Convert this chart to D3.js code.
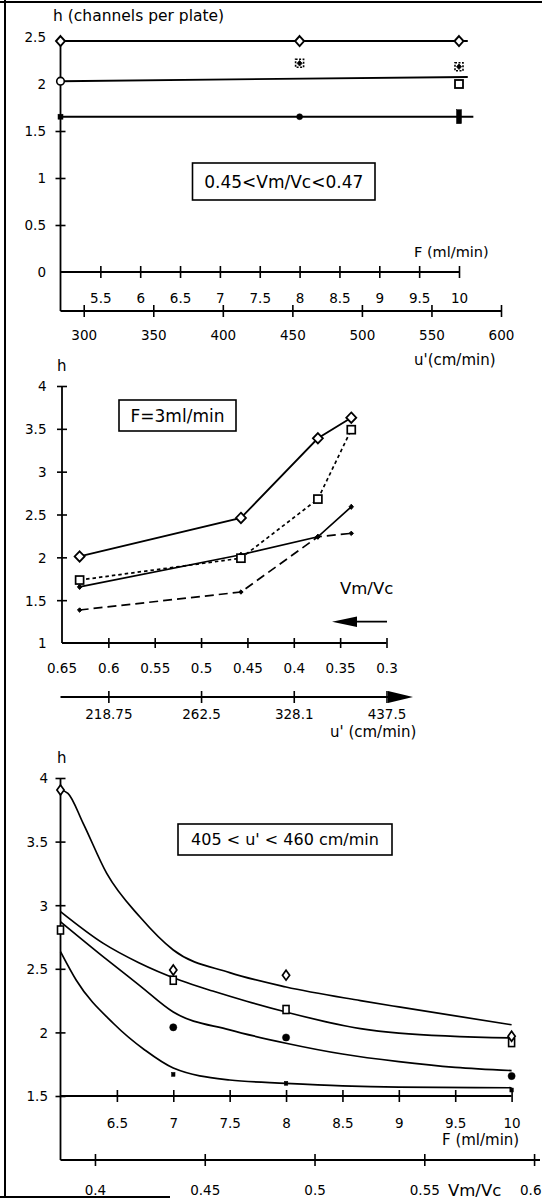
<!DOCTYPE html>
<html><head><meta charset="utf-8">
<script src="https://cdn.jsdelivr.net/npm/d3@7"></script>
<style>
body{margin:0;background:#fff}
svg{display:block}
text{font-family:"DejaVu Sans",sans-serif;fill:#000}
</style>
</head><body>
<svg id="c" width="542" height="1200"></svg>
<script>
// ---------- DATA ----------
// Panel 1 : 0.45 < Vm/Vc < 0.47, h versus F (and u')
const p1FlowTicks = [5.5, 6, 6.5, 7, 7.5, 8, 8.5, 9, 9.5, 10];
const p1UTicks = [300, 350, 400, 450, 500, 550, 600];
const p1HTicks = [0, 0.5, 1, 1.5, 2, 2.5];
const p1DiamondF = [5, 8, 10];
const p1DiamondH = [2.457, 2.457, 2.457];
const p1OpenF = [5];
const p1OpenH = [2.03];
const p1DottedF = [8, 10];
const p1DottedH = [2.22, 2.184];
const p1SquareF = [10];
const p1SquareH = [2.0];
const p1FilledF = [5, 8, 10];
const p1FilledH = [1.652, 1.652, 1.652];
const p1LineTopF = [5, 10.11];
const p1LineTopH = [2.457, 2.457];
const p1LineMidF = [5, 10.11];
const p1LineMidH = [2.03, 2.075];
const p1LineLowF = [5, 10.18];
const p1LineLowH = [1.652, 1.652];

// Panel 2 : F = 3 ml/min, h versus Vm/Vc (and u')
const p2RatioTicks = [0.65, 0.6, 0.55, 0.5, 0.45, 0.4, 0.35, 0.3];
const p2UTicks = [218.75, 262.5, 328.1, 437.5];
const p2HTicks = [1, 1.5, 2, 2.5, 3, 3.5, 4];
const p2Ratio = [0.631, 0.457, 0.374, 0.338];
const p2OpenDiamond = [2.01, 2.46, 3.39, 3.63];
const p2OpenSquare = [1.735, 1.99, 2.68, 3.49];
const p2FilledDiamond = [1.655, 2.03, 2.24, 2.59];
const p2FilledSquare = [1.385, 1.595, 2.24, 2.28];

// Panel 3 : 405 < u' < 460 cm/min, h versus F (and Vm/Vc)
const p3FlowTicks = [6.5, 7, 7.5, 8, 8.5, 9, 9.5, 10];
const p3RatioTicks = [0.4, 0.45, 0.5, 0.55, 0.6];
const p3HTicks = [1.5, 2, 2.5, 3, 3.5, 4];
const p3OpenF = [6, 7, 8, 10];
const p3OpenDiamond = [3.906, 2.49, 2.45, 1.97];
const p3OpenSquare = [2.805, 2.41, 2.18, 1.92];
const p3FilledF = [7, 8, 10];
const p3FilledCircle = [2.04, 1.96, 1.657];
const p3FilledSquare = [1.67, 1.60, 1.547];
const p3Curve1F = [6, 6.066, 6.2, 6.41, 6.705, 7, 7.5, 8, 8.66, 9, 10];
const p3Curve1H = [3.906, 3.88, 3.646, 3.25, 2.907, 2.648, 2.47, 2.357, 2.25, 2.20, 2.06];
const p3Curve2F = [6, 6.38, 6.69, 7.06, 7.35, 7.65, 8, 8.66, 9, 10];
const p3Curve2H = [2.95, 2.70, 2.55, 2.41, 2.325, 2.245, 2.16, 2.03, 1.995, 1.956];
const p3Curve3F = [6, 6.4, 6.7, 7, 7.5, 8, 8.5, 9, 9.5, 10];
const p3Curve3H = [2.87, 2.58, 2.37, 2.16, 2.02, 1.915, 1.83, 1.77, 1.725, 1.70];
const p3Curve4F = [6, 6.14, 6.47, 6.75, 7, 7.5, 8, 8.5, 9, 10];
const p3Curve4H = [2.635, 2.41, 2.07, 1.86, 1.72, 1.626, 1.60, 1.58, 1.57, 1.565];

// ---------- DRAWING ----------
const svg = d3.select("#c");
svg.append("rect").attr("width",542).attr("height",1200).attr("fill","#fff");
const TICKFS = 13.5;
const AX = 1.8;

// page frame
svg.append("line").attr("x1",5).attr("x2",5).attr("y1",0).attr("y2",1198).attr("stroke","#000").attr("stroke-width",2);
svg.append("line").attr("x1",0).attr("x2",542).attr("y1",2).attr("y2",2).attr("stroke","#000").attr("stroke-width",2);
svg.append("line").attr("x1",0).attr("x2",170).attr("y1",1197).attr("y2",1197).attr("stroke","#000").attr("stroke-width",2);

function line(g,x1,y1,x2,y2,w){
  g.append("line").attr("x1",x1).attr("y1",y1).attr("x2",x2).attr("y2",y2)
   .attr("stroke","#000").attr("stroke-width",w||AX);
}
function hAxis(g, scale, y, ticks, labelOff, fmt, up, down){
  const ax = d3.axisBottom(scale).tickValues(ticks).tickFormat(fmt||(d=>d)).tickSize(0).tickSizeOuter(0);
  const gg = g.append("g").attr("transform",`translate(0,${y})`).call(ax);
  gg.select(".domain").remove();
  gg.attr("font-family",null).attr("font-size",null);
  gg.selectAll(".tick line").attr("y1",-(up==null?5:up)).attr("y2",down==null?5:down)
    .attr("stroke","#000").attr("stroke-width",1.6);
  gg.selectAll(".tick text").attr("y",labelOff).attr("dy","0.36em").attr("font-size",TICKFS);
  return gg;
}
function vAxis(g, scale, x, ticks, labelRight, fmt, left, right){
  const ax = d3.axisLeft(scale).tickValues(ticks).tickFormat(fmt||(d=>d)).tickSize(0).tickSizeOuter(0);
  const gg = g.append("g").attr("transform",`translate(${x},0)`).call(ax);
  gg.select(".domain").remove();
  gg.attr("font-family",null).attr("font-size",null);
  gg.selectAll(".tick line").attr("x1",-(left==null?5:left)).attr("x2",right==null?5:right)
    .attr("stroke","#000").attr("stroke-width",1.6);
  gg.selectAll(".tick text").attr("x",labelRight-x).attr("dy","0.36em").attr("font-size",TICKFS).attr("text-anchor","end");
  return gg;
}
function label(g,txt,x,y,fs,anchor){
  g.append("text").attr("x",x).attr("y",y).attr("dy","0.36em").attr("font-size",fs)
   .attr("text-anchor",anchor||"start").text(txt);
}
function box(g,txt,x0,y0,x1,y1,fs){
  g.append("rect").attr("x",x0).attr("y",y0).attr("width",x1-x0).attr("height",y1-y0)
   .attr("fill","#fff").attr("stroke","#000").attr("stroke-width",1.6);
  label(g,txt,(x0+x1)/2,(y0+y1)/2,fs,"middle");
}
// marker shapes
function diamond(g,x,y,hw,hh,filled,sw){
  g.append("path").attr("d",`M${x},${y-hh}L${x+hw},${y}L${x},${y+hh}L${x-hw},${y}Z`)
   .attr("fill",filled?"#000":"#fff").attr("stroke","#000").attr("stroke-width",sw||1.8);
}
function square(g,x,y,w,h,filled,sw,dash){
  g.append("rect").attr("x",x-w/2).attr("y",y-h/2).attr("width",w).attr("height",h)
   .attr("fill",filled?"#000":"#fff").attr("stroke","#000").attr("stroke-width",sw||1.6)
   .attr("stroke-dasharray",dash||null);
}
function circle(g,x,y,r,filled,sw){
  g.append("circle").attr("cx",x).attr("cy",y).attr("r",r)
   .attr("fill",filled?"#000":"#fff").attr("stroke","#000").attr("stroke-width",sw||1.6);
}
function path(g,xs,ys,sx,sy,curve,dash,w){
  const pts = xs.map((v,i)=>[sx(v),sy(ys[i])]);
  g.append("path").attr("d",d3.line().curve(curve||d3.curveLinear)(pts))
   .attr("fill","none").attr("stroke","#000").attr("stroke-width",w||1.7)
   .attr("stroke-dasharray",dash||null);
}

// ===== Panel 1 =====
{
  const g = svg.append("g");
  const xF = d3.scaleLinear([5,10],[60.5,459]);
  const xU = d3.scaleLinear([283.3,600],[60.5,501]);
  const y = d3.scaleLinear([0,2.5],[272,37]);
  label(g,"h (channels per plate)",53,15,15.5);
  // axes
  line(g,60.5,y(p1LineTopH[0]),60.5,311);
  line(g,xF(5),y(0),xF(10),y(0));
  line(g,xU(283.3),311,xU(600),311);
  vAxis(g,y,60.5,p1HTicks,46,d=>d,5,5).selectAll(".tick line").filter(d=>d>=2||d===0).remove();
  hAxis(g,xF,y(0),p1FlowTicks,26,d=>d,6,6);
  hAxis(g,xU,311,p1UTicks,24,d=>d,6,6);
  label(g,"F (ml/min)",414,252,14.5);
  label(g,"u'(cm/min)",414,360,15);
  box(g,"0.45<Vm/Vc<0.47",192.5,163,375,200,17);
  // fitted lines
  path(g,p1LineTopF,p1LineTopH,xF,y,null,null,1.9);
  path(g,p1LineMidF,p1LineMidH,xF,y,null,null,1.9);
  path(g,p1LineLowF,p1LineLowH,xF,y,null,null,1.9);
  // markers
  p1DiamondF.forEach((f,i)=>diamond(g,xF(f),y(p1DiamondH[i]),4.5,5,false,1.9));
  p1OpenF.forEach((f,i)=>circle(g,xF(f),y(p1OpenH[i]),3.8,false,1.6));
  p1DottedF.forEach((f,i)=>{
    square(g,xF(f),y(p1DottedH[i]),8,8,false,1.6,"2,1.5");
    diamond(g,xF(f),y(p1DottedH[i]),2.5,2.8,true,0.8);
  });
  p1SquareF.forEach((f,i)=>square(g,xF(f),y(p1SquareH[i]),8,8,false,1.8));
  p1FilledF.forEach((f,i)=>{
    const cx = xF(f), cy = y(p1FilledH[i]);
    if(i===0) square(g,cx,cy,5,5,true,0.5);
    else if(i===1) circle(g,cx,cy,3,true,0.5);
    else square(g,cx,cy,5,14,true,0.5);
  });
}

// ===== Panel 2 =====
{
  const g = svg.append("g");
  const x = d3.scaleLinear([0.65,0.3],[62,386.5]);
  const y = d3.scaleLinear([1,4],[643,386]);
  const uToX = u => x(131.25/u);
  label(g,"h",57,366,15);
  line(g,62,386,62,643);
  line(g,62,643,386.5,643);
  vAxis(g,y,62,p2HTicks.filter(d=>d>1),46.5,d=>d,5,5);
  g.append("text").attr("x",46.5).attr("y",643).attr("dy","0.36em").attr("font-size",TICKFS).attr("text-anchor","end").text("1");
  hAxis(g,x,643,p2RatioTicks.filter(d=>d<0.65),25,d=>d,5,5);
  g.append("text").attr("x",62).attr("y",668).attr("dy","0.36em").attr("font-size",TICKFS).attr("text-anchor","middle").text("0.65");
  // u' axis with arrow
  line(g,60.5,697,390,697);
  g.append("path").attr("d","M413,697L388,691L388,703Z").attr("fill","#000");
  const uScale = d3.scaleLinear().domain(p2UTicks).range(p2UTicks.map(uToX));
  hAxis(g,uScale,697,p2UTicks,17,d=>d,6,6);
  label(g,"u' (cm/min)",330,732,15);
  box(g,"F=3ml/min",119,400,236,431,17);
  label(g,"Vm/Vc",340,588,16.5);
  // direction arrow
  line(g,352,621.7,387,621.7,1.8);
  g.append("path").attr("d","M332,621.7L357,616.5L357,627Z").attr("fill","#000");
  // series lines
  path(g,p2Ratio,p2OpenDiamond,x,y,null,null,1.8);
  path(g,p2Ratio,p2OpenSquare,x,y,null,"3.5,3",1.7);
  path(g,p2Ratio,p2FilledDiamond,x,y,null,null,1.7);
  path(g,p2Ratio,p2FilledSquare,x,y,null,"9,5",1.7);
  // markers
  p2Ratio.forEach((r,i)=>{
    diamond(g,x(r),y(p2FilledSquare[i]),2.2,2.2,true,1);
    diamond(g,x(r),y(p2FilledDiamond[i]),2.2,2.6,true,1);
    square(g,x(r),y(p2OpenSquare[i]),8,8,false,1.7);
    diamond(g,x(r),y(p2OpenDiamond[i]),5,5.2,false,1.8);
  });
}

// ===== Panel 3 =====
{
  const g = svg.append("g");
  const xF = d3.scaleLinear([6,10],[60.5,511.6]);
  const xR = d3.scaleLinear([0.3843,0.6027],[60.5,540]);
  const y = d3.scaleLinear([1.5,4],[1096,778]);
  label(g,"h",57,758,15);
  line(g,60.5,778,60.5,1160);
  line(g,60.5,1096,511.6,1096);
  line(g,60.5,1160,540,1160);
  vAxis(g,y,60.5,p3HTicks,48,d=>d,5,5);
  hAxis(g,xF,1096,p3FlowTicks,27,d=>d,6,6);
  const ra = hAxis(g,xR,1160,p3RatioTicks,30,d=>d,6,6);
  // keep the last label inside the page edge
  ra.selectAll(".tick text").filter(d=>d===0.6).attr("text-anchor","end").attr("x",541-xR(0.6));
  label(g,"F (ml/min)",442,1140,15);
  label(g,"Vm/Vc",448,1190,16.5);
  box(g,"405 < u' < 460 cm/min",178,824,392,855,16);
  // fitted curves
  path(g,p3Curve1F,p3Curve1H,xF,y,d3.curveMonotoneX,null,1.7);
  path(g,p3Curve2F,p3Curve2H,xF,y,d3.curveMonotoneX,null,1.7);
  path(g,p3Curve3F,p3Curve3H,xF,y,d3.curveMonotoneX,null,1.7);
  path(g,p3Curve4F,p3Curve4H,xF,y,d3.curveMonotoneX,null,1.7);
  // markers
  p3OpenF.forEach((f,i)=>{
    square(g,xF(f),y(p3OpenSquare[i]),6,8,false,1.6);
    diamond(g,xF(f),y(p3OpenDiamond[i]),3.6,5,false,1.7);
  });
  p3FilledF.forEach((f,i)=>{
    circle(g,xF(f),y(p3FilledCircle[i]),3.6,true,0.5);
    square(g,xF(f),y(p3FilledSquare[i]),3.5,4,true,0.5);
  });
}
</script>
</body></html>
